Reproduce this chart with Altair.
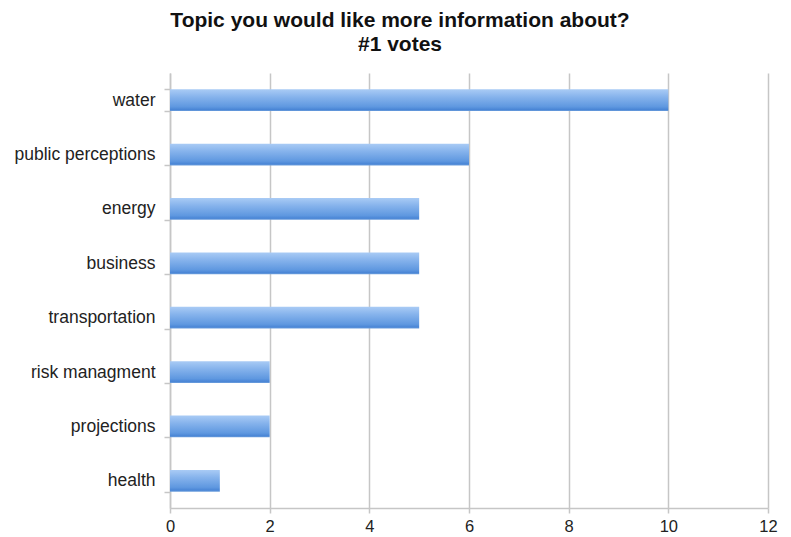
import altair as alt
import pandas as pd

topics = ["water", "public perceptions", "energy", "business", "transportation",
          "risk managment", "projections", "health"]
votes = [10, 6, 5, 5, 5, 2, 2, 1]

df = pd.DataFrame({"topic": topics, "votes": votes})

FONT = "Liberation Sans"
GRID = "#c6c6c6"

bars = alt.Chart(df).mark_bar(
    color=alt.Gradient(
        gradient="linear",
        x1=0, x2=0, y1=0, y2=1,
        stops=[
            alt.GradientStop(color="#a9cbf5", offset=0),
            alt.GradientStop(color="#86b3ec", offset=0.35),
            alt.GradientStop(color="#5f98e0", offset=0.8),
            alt.GradientStop(color="#4a86d6", offset=0.93),
            alt.GradientStop(color="#6e9fdc", offset=1),
        ],
    ),
    cornerRadius=0,
).encode(
    x=alt.X("votes:Q",
            scale=alt.Scale(domain=[0, 12], nice=False),
            axis=alt.Axis(values=[0, 2, 4, 6, 8, 10, 12], title=None,
                          grid=True, gridColor=GRID, gridWidth=1.5,
                          domainColor=GRID, domainWidth=1.5,
                          tickColor=GRID, tickWidth=1.5, tickSize=5,
                          labelFont=FONT, labelFontSize=16.5, labelColor="#222222",
                          labelPadding=5, labelFlush=False)),
    y=alt.Y("topic:N", sort=topics,
            scale=alt.Scale(paddingInner=0.6, paddingOuter=0.3),
            axis=alt.Axis(title=None, tickBand="extent",
                          domainColor=GRID, domainWidth=1.5,
                          tickColor=GRID, tickWidth=1.5, tickSize=6,
                          labelFont=FONT, labelFontSize=17.5, labelColor="#222222",
                          labelPadding=9, grid=False)),
).properties(
    width=598,
    height=435,
    title=alt.TitleParams(
        text=["Topic you would like more information about?", "#1 votes"],
        font=FONT, fontSize=21, fontWeight="bold", color="#111111",
        anchor="middle", dx=-69, offset=9, lineHeight=24,
    ),
    autosize=alt.AutoSizeParams(type="none"),
    padding={"left": 170, "top": 73, "right": 23, "bottom": 29},
).configure_view(stroke=None)

chart = bars
chart.save("out.html", embed_options={"renderer": "svg", "actions": False})
